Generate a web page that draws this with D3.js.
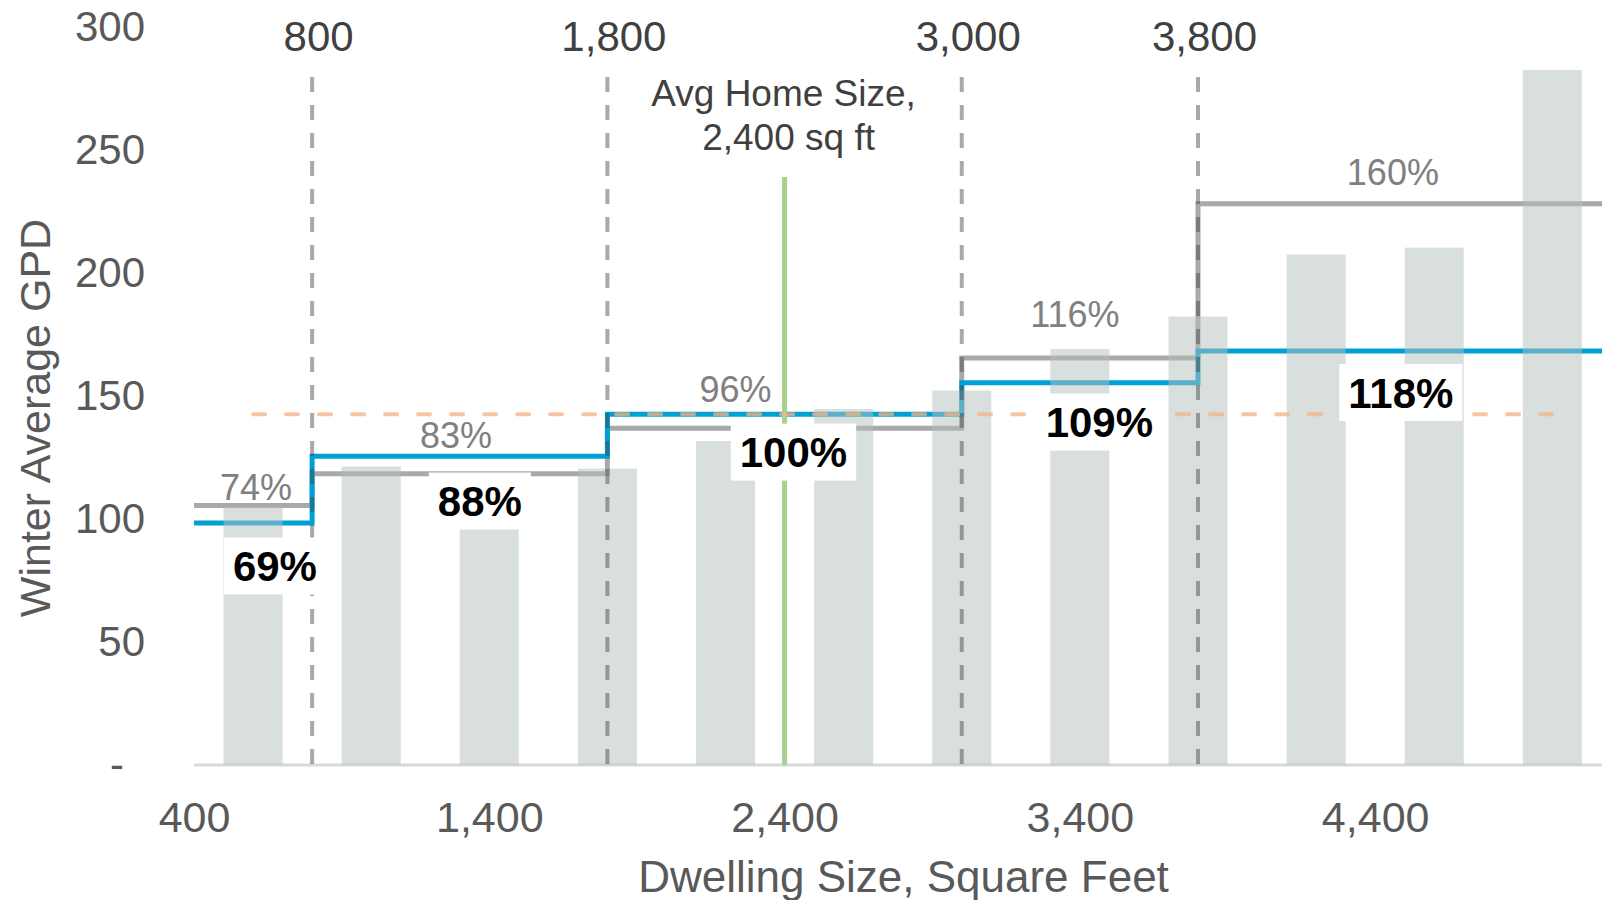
<!DOCTYPE html>
<html>
<head>
<meta charset="utf-8">
<script src="https://cdn.jsdelivr.net/npm/d3@7"></script>
<style>
  html, body { margin: 0; padding: 0; background: #ffffff; }
  svg { display: block; font-family: "Liberation Sans", Arial, sans-serif; }
</style>
</head>
<body>
<svg id="chart" width="1602" height="900"></svg>
<script>
// ---------------- DATA ----------------
// Tier breakpoints (square feet)
const tierBreaks = [400, 800, 1800, 3000, 3800, 5200];
const tierTickValues = [800, 1800, 3000, 3800];
// Step series (Winter Average GPD per tier)
const greyTierGPD = [105.5, 118.4, 136.9, 165.4, 228.2];
const blueTierGPD = [98.4, 125.5, 142.6, 155.4, 168.3];
const greyTierPct = ["74%", "83%", "96%", "116%", "160%"];
const blueTierPct = ["69%", "88%", "100%", "109%", "118%"];
// Bars: dwelling-size bins (centres) and Winter Average GPD
const binCenters = [600, 1000, 1400, 1800, 2200, 2600, 3000, 3400, 3800, 4200, 4600, 5000];
const binGPD = [104.8, 121.3, 96.4, 120.5, 131.7, 144.7, 152.2, 169.1, 182.3, 207.5, 210.3, 282.5];
// Reference lines
const averageGPD = 142.6;
const avgHomeSize = 2400;
const avgHomeLabel = ["Avg Home Size,", "2,400 sq ft"];
// Axis ticks
const xTickValues = [400, 1400, 2400, 3400, 4400];
const yTickValues = [0, 50, 100, 150, 200, 250, 300];
const xTitle = "Dwelling Size, Square Feet";
const yTitle = "Winter Average GPD";

// ---------------- LAYOUT (annotation anchors, in data units) ----------------
const greyLabelAnchorX = [610, 1287, 2234, 3383, 4460];
const greyLabelAnchorY = [107.7, 128.9, 147.6, 178.0, 235.8];
const blueLabelAnchorX = [674, 1368, 2430, 3466, 4487];
const blueLabelAnchorY = [80.9, 107.3, 127.2, 139.4, 151.4];

// ---------------- CHART ----------------
const svg = d3.select("#chart");
const x = d3.scaleLinear().domain([400, 5200]).range([194, 1611.4]);
const y = d3.scaleLinear().domain([0, 300]).range([765, 27]);
const binWidth = 200;

const FONT = '"Liberation Sans", Arial, sans-serif';

// baseline
svg.append("line")
  .attr("x1", x(400)).attr("x2", 1602)
  .attr("y1", y(0)).attr("y2", y(0))
  .attr("stroke", "#d9d9d9").attr("stroke-width", 3);

// step lines
function stepPoints(vals) {
  const pts = vals.map((v, i) => [tierBreaks[i], v]);
  pts.push([tierBreaks[tierBreaks.length - 1], vals[vals.length - 1]]);
  return pts;
}
const stepLine = d3.line().x(d => x(d[0])).y(d => y(d[1])).curve(d3.curveStepAfter);

svg.append("path")
  .attr("d", stepLine(stepPoints(greyTierGPD)))
  .attr("fill", "none").attr("stroke", "#a9a9a9").attr("stroke-width", 5);
svg.append("path")
  .attr("d", stepLine(stepPoints(blueTierGPD)))
  .attr("fill", "none").attr("stroke", "#00a0d4").attr("stroke-width", 5);

// bars (semi-transparent, on top of the step lines)
svg.append("g").selectAll("rect")
  .data(binCenters.map((c, i) => ({ c, v: binGPD[i] })))
  .join("rect")
  .attr("x", d => x(d.c - binWidth / 2))
  .attr("width", d => x(d.c + binWidth / 2) - x(d.c - binWidth / 2))
  .attr("y", d => y(d.v))
  .attr("height", d => y(0) - y(d.v))
  .attr("fill", "#b4c0bc")
  .attr("fill-opacity", 0.5);

// average home size (green) line
svg.append("line")
  .attr("x1", x(avgHomeSize)).attr("x2", x(avgHomeSize))
  .attr("y1", 177).attr("y2", y(0))
  .attr("stroke", "#a9d18e").attr("stroke-width", 5);

// tier dashed vertical lines
svg.append("g").selectAll("line")
  .data(tierTickValues)
  .join("line")
  .attr("x1", d => x(d)).attr("x2", d => x(d))
  .attr("y1", 77).attr("y2", y(0))
  .attr("stroke", "#404040").attr("stroke-opacity", 0.45)
  .attr("stroke-width", 4)
  .attr("stroke-dasharray", "15,13");

// average GPD dashed orange line
svg.append("line")
  .attr("x1", x(binCenters[0])).attr("x2", x(binCenters[binCenters.length - 1]))
  .attr("y1", y(averageGPD)).attr("y2", y(averageGPD))
  .attr("stroke", "#f4b183").attr("stroke-opacity", 0.75)
  .attr("stroke-width", 4)
  .attr("stroke-linecap", "round")
  .attr("stroke-dasharray", "12,21");

// grey percent labels
svg.append("g").selectAll("text")
  .data(greyTierPct.map((t, i) => ({ t, ax: greyLabelAnchorX[i], ay: greyLabelAnchorY[i] })))
  .join("text")
  .attr("x", d => x(d.ax)).attr("y", d => y(d.ay))
  .attr("text-anchor", "middle")
  .attr("font-size", 36)
  .attr("fill", "#808080")
  .text(d => d.t);

// bold blue-tier labels with white boxes
const boldG = svg.append("g");
blueTierPct.forEach((t, i) => {
  const cx = x(blueLabelAnchorX[i]);
  const cy = y(blueLabelAnchorY[i]);
  const g = boldG.append("g");
  const rect = g.append("rect").attr("fill", "#ffffff");
  const txt = g.append("text")
    .attr("x", cx).attr("y", cy)
    .attr("dy", "0.36em")
    .attr("text-anchor", "middle")
    .attr("font-size", 42)
    .attr("font-weight", "bold")
    .attr("fill", "#000000")
    .text(t);
  const w = txt.node().getComputedTextLength();
  rect.attr("x", cx - w / 2 - 9).attr("width", w + 18)
      .attr("y", cy - 28.5).attr("height", 57);
});

// avg home size annotation
svg.append("g").selectAll("text")
  .data(avgHomeLabel)
  .join("text")
  .attr("x", (d, i) => x(avgHomeSize) + (i === 0 ? -1 : 4))
  .attr("y", (d, i) => 106 + i * 44)
  .attr("text-anchor", "middle")
  .attr("font-size", 37)
  .attr("fill", "#404040")
  .text(d => d);

// top axis (tier breakpoints)
const topAxis = svg.append("g")
  .attr("transform", "translate(6,51)")
  .call(d3.axisTop(x).tickValues(tierTickValues).tickFormat(d3.format(",")).tickSize(0).tickPadding(0));
topAxis.select(".domain").remove();
topAxis.selectAll("text")
  .attr("font-family", FONT).attr("font-size", 42).attr("fill", "#404040").attr("dy", 0);

// bottom axis
const bottomAxis = svg.append("g")
  .attr("transform", `translate(0,${y(0)})`)
  .call(d3.axisBottom(x).tickValues(xTickValues).tickFormat(d3.format(",")).tickSize(0).tickPadding(36));
bottomAxis.select(".domain").remove();
bottomAxis.selectAll("text")
  .attr("font-family", FONT).attr("font-size", 43).attr("fill", "#595959");

// left axis
const leftAxis = svg.append("g")
  .attr("transform", "translate(145,0)")
  .call(d3.axisLeft(y).tickValues(yTickValues).tickFormat(d => d === 0 ? "-" : d3.format(",")(d)).tickSize(0).tickPadding(0));
leftAxis.select(".domain").remove();
leftAxis.selectAll("text")
  .attr("font-family", FONT).attr("font-size", 42).attr("fill", "#595959");
leftAxis.selectAll(".tick").filter(d => d === 0).select("text").attr("x", -21);

// axis titles
svg.append("text")
  .attr("x", 903.5).attr("y", 892)
  .attr("text-anchor", "middle")
  .attr("font-size", 44)
  .attr("fill", "#595959")
  .text(xTitle);

svg.append("text")
  .attr("transform", "translate(50,418) rotate(-90)")
  .attr("text-anchor", "middle")
  .attr("font-size", 43)
  .attr("fill", "#595959")
  .text(yTitle);
</script>
</body>
</html>
